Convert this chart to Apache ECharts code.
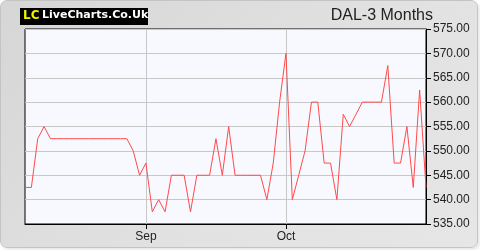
<!DOCTYPE html>
<html>
<head>
<meta charset="utf-8">
<script src="https://cdn.jsdelivr.net/npm/echarts@6/dist/echarts.min.js"></script>
<style>
html,body{margin:0;padding:0;background:#ffffff;}
#wrap{position:absolute;left:0;top:0;width:476px;height:246px;border:1px solid #c4c4c4;border-radius:7px;
background:linear-gradient(135deg,#d6d6d6 0%,#e2e2e2 60%,#e6e6e6 100%);box-shadow:2px 2px 3px #e8e8e8;}
#chart{position:absolute;left:0;top:0;width:480px;height:250px;}
</style>
</head>
<body>
<div id="wrap"></div>
<div id="chart"></div>
<script>
const dates = [
 '2025-08-04','2025-08-05','2025-08-06','2025-08-07','2025-08-08','2025-08-11','2025-08-12','2025-08-13','2025-08-14','2025-08-15',
 '2025-08-18','2025-08-19','2025-08-20','2025-08-21','2025-08-22','2025-08-26','2025-08-27','2025-08-28','2025-08-29',
 '2025-09-01','2025-09-02','2025-09-03','2025-09-04','2025-09-05','2025-09-08','2025-09-09','2025-09-10','2025-09-11','2025-09-12',
 '2025-09-15','2025-09-16','2025-09-17','2025-09-18','2025-09-19','2025-09-22','2025-09-23','2025-09-24','2025-09-25','2025-09-26',
 '2025-09-29','2025-09-30',
 '2025-10-01','2025-10-02','2025-10-03','2025-10-06','2025-10-07','2025-10-08','2025-10-09','2025-10-10','2025-10-13','2025-10-14',
 '2025-10-15','2025-10-16','2025-10-17','2025-10-20','2025-10-21','2025-10-22','2025-10-23','2025-10-24','2025-10-27','2025-10-28',
 '2025-10-29','2025-10-30','2025-10-31'
];
const prices = [
 542.5,542.5,552.5,555,552.5,552.5,552.5,552.5,552.5,552.5,
 552.5,552.5,552.5,552.5,552.5,552.5,552.5,550,545,547.5,
 537.5,540,537.5,545,545,545,537.5,545,545,545,
 552.5,545,555,545,545,545,545,545,540,547.5,
 560,570,540,545,550,560,560,547.5,547.5,540,
 557.5,555,557.5,560,560,560,560,567.5,547.5,547.5,
 555,542.5,562.5,542.5
];
const monthTickDates = ['2025-09-01','2025-10-01'];
const monthTickLabels = ['Sep','Oct'];
const yMin = 535, yMax = 575, yStep = 5;
const titleText = 'DAL-3 Months';

const chart = echarts.init(document.getElementById('chart'), null, {renderer:'canvas'});
const isMonthTick = (i, v) => monthTickDates.indexOf(v !== undefined ? v : dates[i]) >= 0;
chart.setOption({
  animation:false,
  backgroundColor:'transparent',
  grid:{left:25,right:54,top:29,bottom:26,show:true,backgroundColor:'#f8f9ff',borderColor:'#000',borderWidth:1},
  graphic:[
    {type:'rect',left:20,top:8,shape:{width:128,height:17},style:{fill:'#000'}},
    {type:'text',left:23,top:10,style:{text:'LC',fill:'#f0f000',font:'bold 12px "DejaVu Sans"'}},
    {type:'text',left:42,top:10,style:{text:'LiveCharts.Co.Uk',fill:'#fff',font:'bold 11px "DejaVu Sans"'}},
    {type:'text',right:47,top:8,style:{text:titleText,fill:'#222',font:'16px "Liberation Sans"'}}
  ],
  xAxis:{
    type:'category',data:dates,boundaryGap:false,
    axisLine:{lineStyle:{color:'#000',width:1}},
    axisTick:{show:true,interval:(i,v)=>isMonthTick(i,v),length:5,lineStyle:{color:'#000'}},
    axisLabel:{interval:(i,v)=>isMonthTick(i,v),formatter:(v)=>{const k=monthTickDates.indexOf(v);return k>=0?monthTickLabels[k]:'';},
      color:'#222',fontSize:12,fontFamily:'Liberation Sans',margin:7},
    splitLine:{show:true,interval:(i,v)=>isMonthTick(i,v),lineStyle:{color:'#c8c8c8',width:1}}
  },
  yAxis:{
    type:'value',position:'right',min:yMin,max:yMax,interval:yStep,
    axisLine:{show:true,lineStyle:{color:'#000',width:1}},
    axisTick:{show:true,length:5,lineStyle:{color:'#000'}},
    axisLabel:{formatter:(v)=>v.toFixed(2),color:'#222',fontSize:12,fontFamily:'Liberation Sans',margin:7},
    splitLine:{show:true,lineStyle:{color:'#c8c8c8',width:1}}
  },
  series:[{type:'line',data:prices,showSymbol:false,symbol:'none',lineStyle:{color:'#ff4a4a',width:1},z:3}]
});
</script>
</body>
</html>
